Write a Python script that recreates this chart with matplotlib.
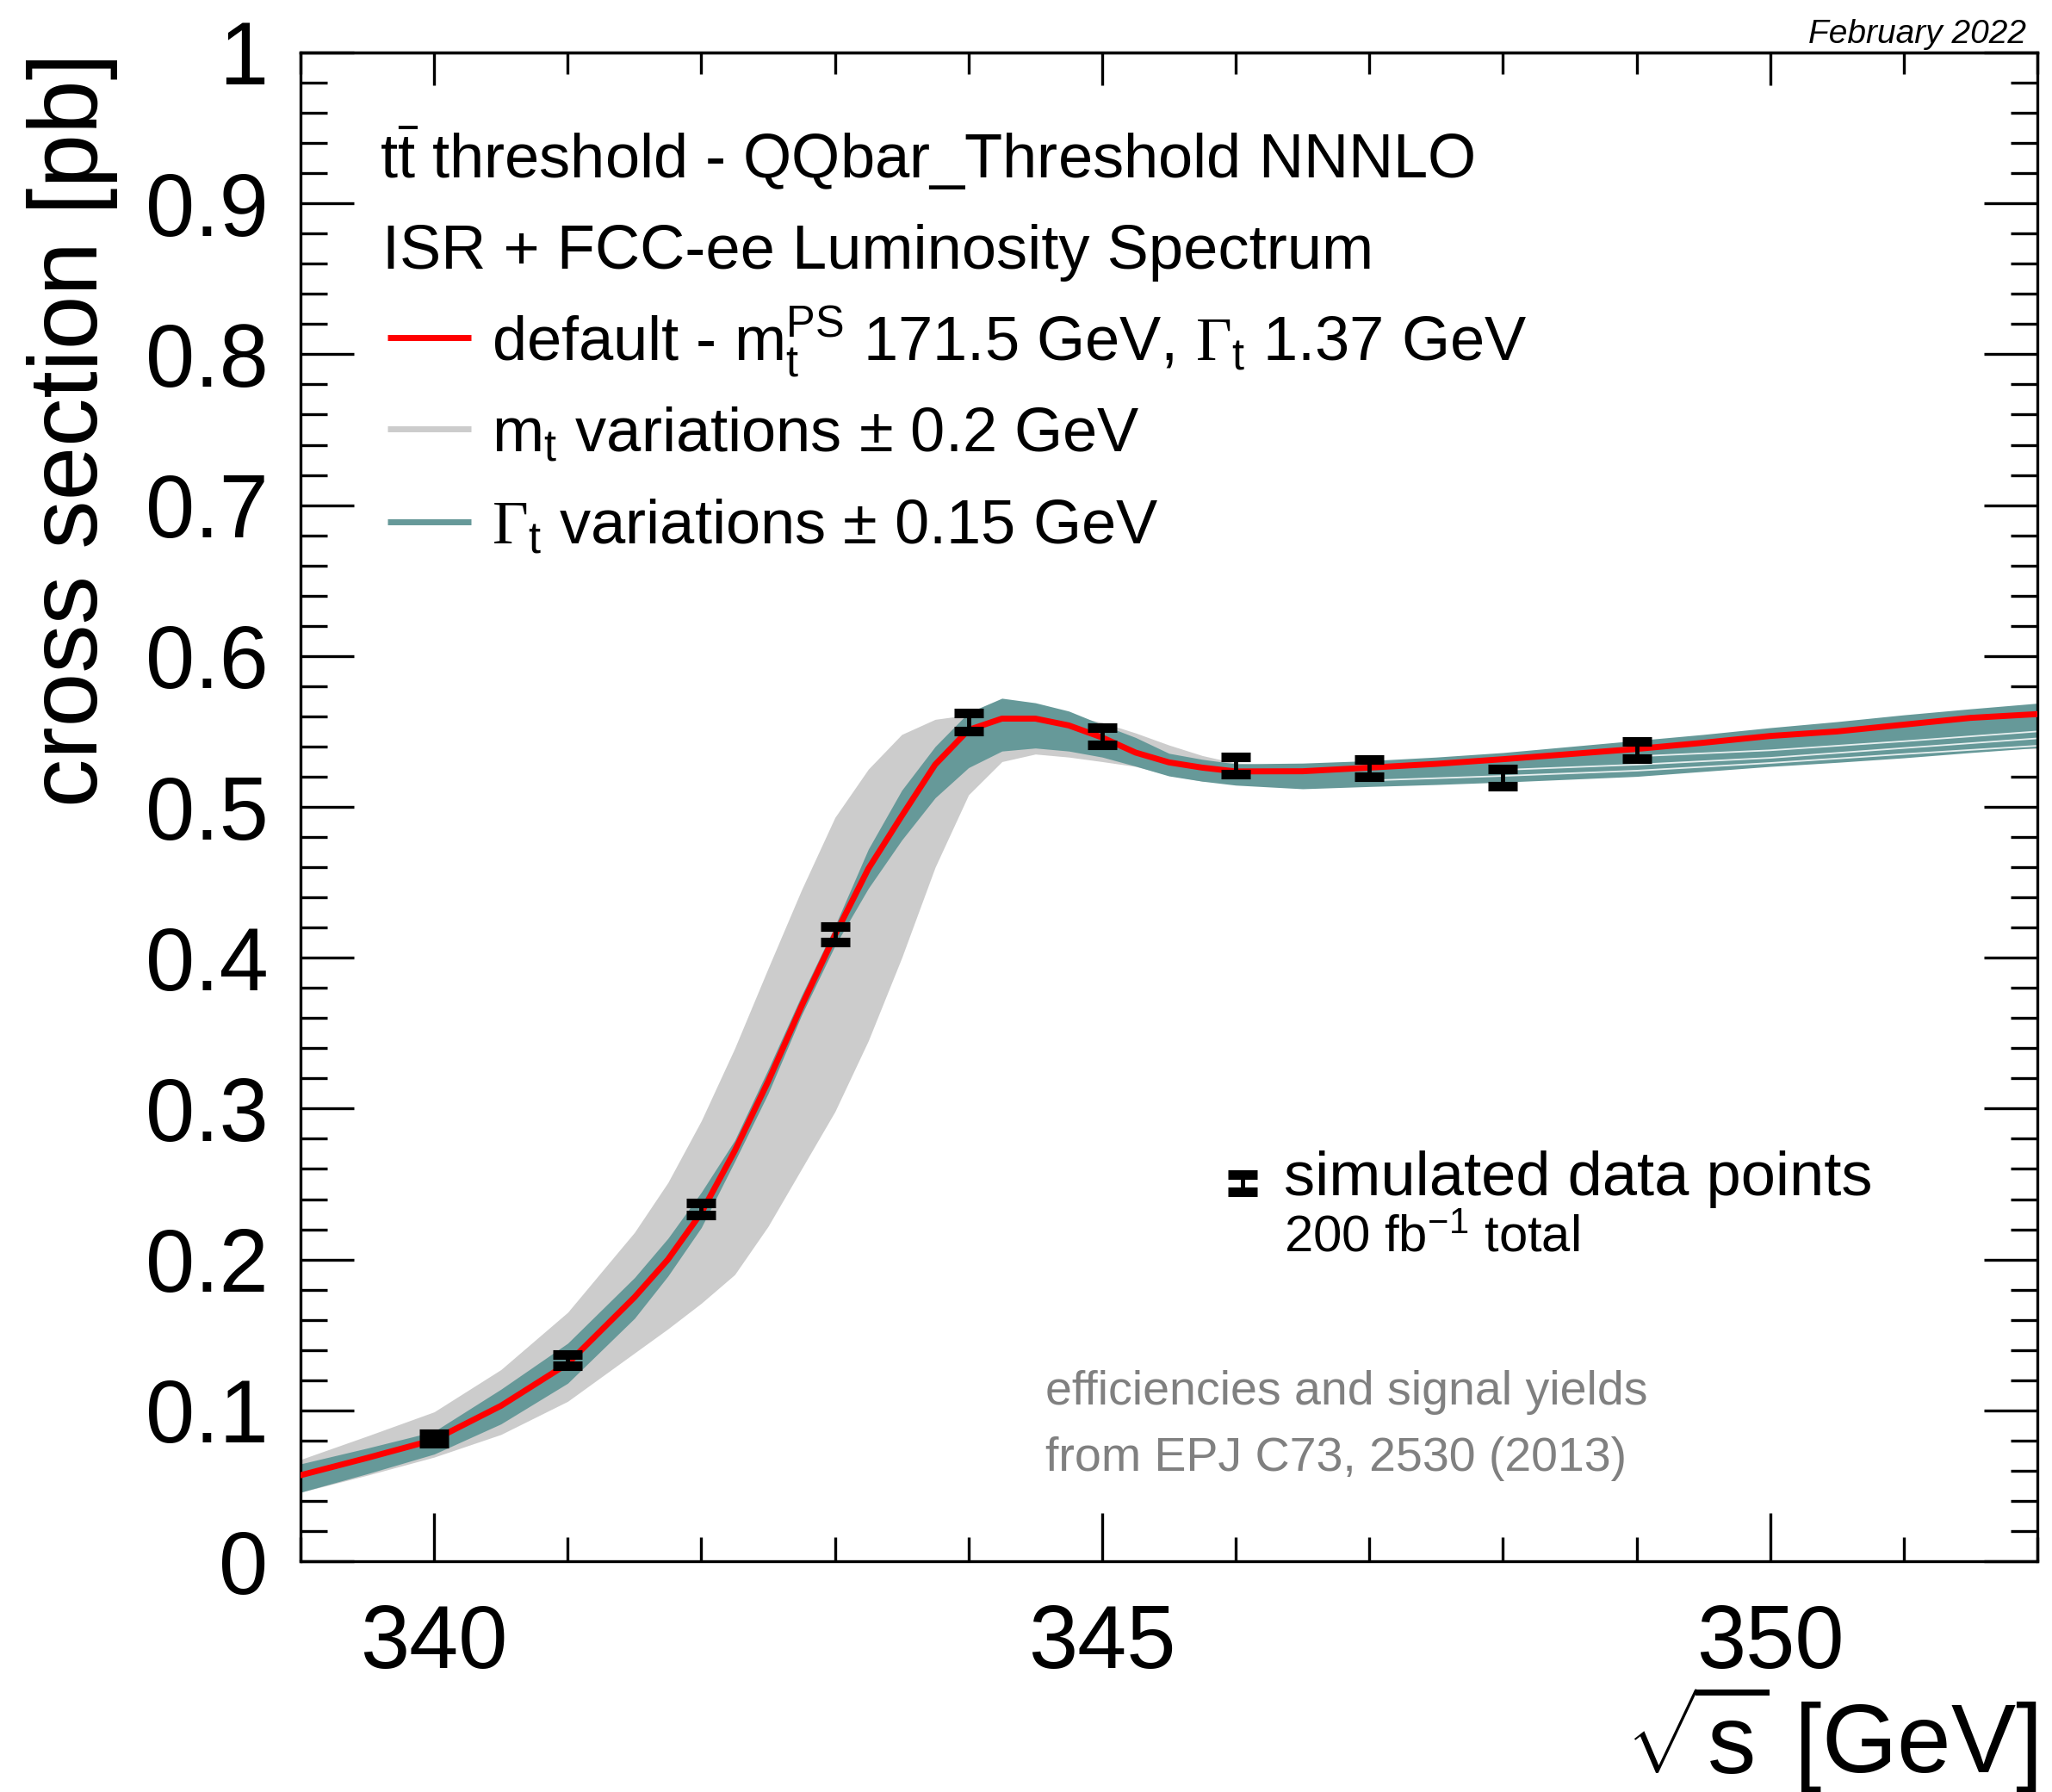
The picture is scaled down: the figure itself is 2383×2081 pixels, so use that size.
import matplotlib

matplotlib.use("Agg")
import matplotlib.pyplot as plt
from matplotlib.ticker import FixedLocator, MultipleLocator


# simulated data points (sqrt(s) in GeV, cross section in pb)
data_sqrt_s = [340, 341, 342, 343, 344, 345, 346, 347, 348, 349]
data_xsec = [0.0812, 0.1333, 0.2334, 0.4155, 0.5565, 0.5470, 0.5275, 0.5256, 0.5193, 0.5375]
data_err = [0.0031, 0.0037, 0.0041, 0.0053, 0.0060, 0.0057, 0.0057, 0.0057, 0.0057, 0.0057]

# curves
sqrt_s = [339.0, 339.5, 340.0, 340.5, 341.0, 341.5, 341.75, 342.0, 342.25, 342.5, 342.75,
          343.0, 343.25, 343.5, 343.75, 344.0, 344.25, 344.5, 344.75, 345.0, 345.25,
          345.5, 345.75, 346.0, 346.5, 347.0, 347.5, 348.0, 348.5, 349.0, 349.5,
          350.0, 350.5, 351.0, 351.5, 352.0]
xsec_default = [0.057, 0.0685, 0.0805, 0.103, 0.131, 0.175, 0.200, 0.231, 0.272, 0.318, 0.368,
                0.415, 0.459, 0.494, 0.528, 0.551, 0.5585, 0.5585, 0.554, 0.546, 0.536,
                0.5295, 0.526, 0.5235, 0.5236, 0.526, 0.5285, 0.5316, 0.535, 0.5384, 0.5425,
                0.547, 0.550, 0.5545, 0.559, 0.5615]
mt_var_up = [0.0674, 0.083, 0.099, 0.127, 0.165, 0.218, 0.251, 0.292, 0.340, 0.393, 0.445,
             0.493, 0.525, 0.548, 0.558, 0.561, 0.561, 0.561, 0.5605, 0.556, 0.549,
             0.541, 0.534, 0.529, 0.527, 0.529, 0.532, 0.535, 0.539, 0.543, 0.547,
             0.551, 0.555, 0.559, 0.563, 0.567]
mt_var_lo = [0.0457, 0.057, 0.069, 0.084, 0.106, 0.138, 0.154, 0.171, 0.190, 0.222, 0.260,
             0.298, 0.345, 0.400, 0.460, 0.508, 0.530, 0.535, 0.533, 0.530, 0.5268,
             0.521, 0.517, 0.5164, 0.514, 0.5155, 0.5168, 0.5184, 0.5203, 0.5222, 0.5255,
             0.5288, 0.5315, 0.5345, 0.538, 0.5412]
width_var_up = [0.0645, 0.075, 0.086, 0.114, 0.1445, 0.188, 0.214, 0.2446, 0.279, 0.326, 0.375,
                0.421, 0.472, 0.511, 0.540, 0.5625, 0.572, 0.569, 0.5635, 0.5545, 0.546,
                0.5355, 0.5315, 0.5285, 0.529, 0.5306, 0.533, 0.536, 0.540, 0.544, 0.548,
                0.5525, 0.5565, 0.561, 0.565, 0.5687]
width_var_lo = [0.0457, 0.058, 0.071, 0.091, 0.118, 0.161, 0.189, 0.2212, 0.265, 0.310, 0.362,
                0.408, 0.446, 0.478, 0.506, 0.526, 0.537, 0.539, 0.537, 0.533, 0.527,
                0.5205, 0.517, 0.5144, 0.512, 0.5135, 0.5148, 0.5164, 0.5183, 0.5202, 0.5235,
                0.5268, 0.5295, 0.5325, 0.536, 0.5392]

# white gaps between the separate width-variation curves on the right
gap_sqrt_s = [
    [349.0, 350.0, 351.0, 352.0],
    [348.0, 349.0, 350.0, 351.0, 352.0],
    [347.0, 348.0, 349.0, 350.0, 351.0, 352.0],
]
gap_xsec = [
    [0.5335, 0.5375, 0.5435, 0.5500],
    [0.5245, 0.5280, 0.5325, 0.5390, 0.5454],
    [0.5175, 0.5205, 0.5240, 0.5291, 0.5350, 0.5405],
]

ytick_values = [0.0, 0.1, 0.2, 0.3, 0.4, 0.5, 0.6, 0.7, 0.8, 0.9, 1.0]
ytick_labels = ["0", "0.1", "0.2", "0.3", "0.4", "0.5", "0.6", "0.7", "0.8", "0.9", "1"]

RED = "#ff0000"
GREY = "#cccccc"
TEAL = "#669999"

plt.rcParams["font.family"] = ["Liberation Sans", "DejaVu Sans"]
plt.rcParams["mathtext.fontset"] = "custom"
plt.rcParams["mathtext.rm"] = "Liberation Serif"
plt.rcParams["mathtext.sf"] = "Liberation Sans"
plt.rcParams["mathtext.it"] = "Liberation Sans:italic"
plt.rcParams["mathtext.bf"] = "Liberation Sans:bold"

W, H = 2383, 2081
fig = plt.figure(figsize=(W / 100, H / 100), dpi=100)
ax = fig.add_axes([349 / W, 1 - 1813 / H, 2017 / W, 1752 / H])

ax.fill_between(sqrt_s, mt_var_lo, mt_var_up, color=GREY, lw=0, zorder=1)
ax.fill_between(sqrt_s, width_var_lo, width_var_up, color=TEAL, lw=0, zorder=2)
for gx, gy in zip(gap_sqrt_s, gap_xsec):
    ax.plot(gx, gy, color="white", lw=1.3, alpha=0.85, zorder=2.5)
ax.plot(sqrt_s, xsec_default, color=RED, lw=5, zorder=3)
ax.errorbar(data_sqrt_s, data_xsec, yerr=data_err, fmt="none", ecolor="black",
            elinewidth=3.5, capsize=12, capthick=8, zorder=5)

ax.set_xlim(339, 352)
ax.set_ylim(0, 1)

ax.xaxis.set_major_locator(MultipleLocator(5))
ax.xaxis.set_minor_locator(MultipleLocator(1))
ax.yaxis.set_major_locator(FixedLocator(ytick_values))
ax.yaxis.set_minor_locator(MultipleLocator(0.02))
ax.set_yticklabels(ytick_labels)

ax.tick_params(axis="y", which="major", direction="in", length=44.6, width=2.4,
               left=True, right=True, labelsize=74, pad=27)
ax.tick_params(axis="y", which="minor", direction="in", length=22.3, width=2.4,
               left=True, right=True)
ax.tick_params(axis="x", which="major", direction="in", length=40, width=2.4,
               top=False, labelsize=74, pad=35)
ax.tick_params(axis="x", which="minor", direction="in", length=20, width=2.4, top=False)
for spine in ax.spines.values():
    spine.set_linewidth(2.4)

top = ax.secondary_xaxis("top")
top.xaxis.set_major_locator(MultipleLocator(5))
top.xaxis.set_minor_locator(MultipleLocator(1))
top.tick_params(which="major", direction="in", length=27, width=2.4, labeltop=False)
top.tick_params(which="minor", direction="in", length=18, width=2.4)
top.spines["top"].set_linewidth(2.4)

ax.set_ylabel("cross section [pb]", fontsize=81, loc="top")
ax.yaxis.set_label_coords(-0.105, 1.0)
ax.set_xlabel(r"$\sqrt{\mathsf{s}}$ [GeV]", fontsize=81, loc="right")
ax.xaxis.set_label_coords(1.0, -0.0800)

# header and legend
ax.text(0.0456, 0.9167, r"t$\bar{\mathsf{t}}$ threshold - QQbar_Threshold NNNLO",
        transform=ax.transAxes, fontsize=52, va="baseline")
ax.text(0.0471, 0.8567, "ISR + FCC-ee Luminosity Spectrum",
        transform=ax.transAxes, fontsize=52, va="baseline")

legend_rows = [
    (RED, 0.8111, 0.7957, r"default - m$_{\mathsf{t}}^{\mathsf{PS}}$ 171.5 GeV, $\Gamma_{\mathsf{t}}$ 1.37 GeV"),
    (GREY, 0.7506, 0.7357, r"m$_{\mathsf{t}}$ variations ± 0.2 GeV"),
    (TEAL, 0.6889, 0.6747, r"$\Gamma_{\mathsf{t}}$ variations ± 0.15 GeV"),
]
for color, y_line, y_text, label in legend_rows:
    ax.plot([0.0501, 0.0982], [y_line, y_line], transform=ax.transAxes, color=color,
            lw=5, solid_capstyle="butt", clip_on=False)
    ax.text(0.110, y_text, label, transform=ax.transAxes, fontsize=52, va="baseline")

# data point key
kx, ky, kd = 0.5425, 0.2505, 0.0057
ax.plot([kx, kx], [ky - kd, ky + kd], transform=ax.transAxes, color="black", lw=3.5)
ax.plot([kx, kx], [ky - kd, ky + kd], transform=ax.transAxes, ls="none", marker="_",
        ms=24, mew=8, color="black")
ax.text(0.566, 0.2426, "simulated data points", transform=ax.transAxes,
        fontsize=52, va="baseline")
ax.text(0.566, 0.205, r"200 fb$^{\mathsf{-1}}$ total", transform=ax.transAxes,
        fontsize=43, va="baseline")

ax.text(0.4289, 0.1039, "efficiencies and signal yields", transform=ax.transAxes,
        fontsize=40, color="#808080", va="baseline")
ax.text(0.4289, 0.0599, "from EPJ C73, 2530 (2013)", transform=ax.transAxes,
        fontsize=40, color="#808080", va="baseline")

fig.text(0.9874, 0.976, "February 2022", ha="right", va="baseline", fontsize=28,
         style="italic")

fig.savefig("out.png", dpi=100)
